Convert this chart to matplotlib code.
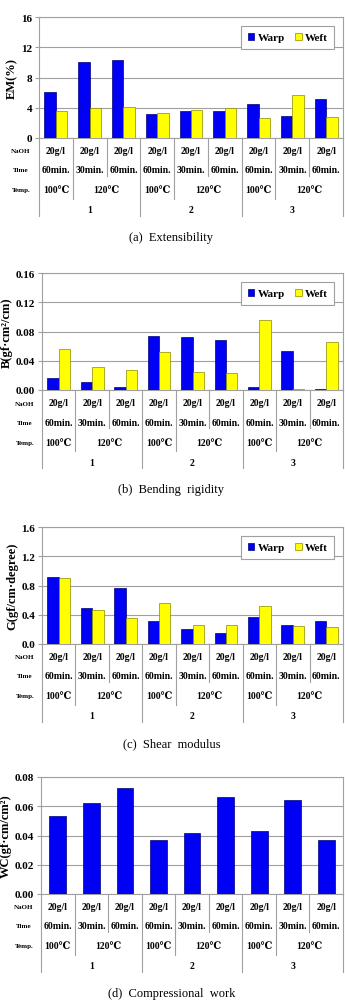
import matplotlib
matplotlib.use("Agg")
import matplotlib.pyplot as plt
import matplotlib.transforms as mtransforms
from matplotlib.patches import Patch

plt.rcParams['font.family'] = ['Liberation Serif', 'DejaVu Serif']

# data
ext_warp = [6.1, 10.0, 10.35, 3.2, 3.6, 3.55, 4.45, 2.9, 5.1]
ext_weft = [3.6, 4.0, 4.15, 3.3, 3.75, 3.95, 2.7, 5.7, 2.8]

bend_warp = [0.017, 0.0115, 0.0037, 0.074, 0.072, 0.068, 0.004, 0.053, 0.002]
bend_weft = [0.056, 0.032, 0.028, 0.052, 0.025, 0.023, 0.096, 0.0007, 0.065]

shear_warp = [0.91, 0.49, 0.77, 0.31, 0.21, 0.155, 0.37, 0.26, 0.32]
shear_weft = [0.90, 0.47, 0.36, 0.56, 0.26, 0.26, 0.52, 0.25, 0.23]

wc_vals = [0.0535, 0.062, 0.0725, 0.037, 0.042, 0.066, 0.043, 0.064, 0.037]

naoh_labels = ['20g/l'] * 9
time_labels = ['60min.', '30min.', '60min.'] * 3
temp_labels = ['100℃', '120℃']
group_labels = ['1', '2', '3']

W, H = 345, 1003
BLUE, BLUE_EDGE = '#0000f5', '#00007a'
YEL, YEL_EDGE = '#ffff00', '#8a8a00'
GRID = '#a0a0a0'

fig = plt.figure(figsize=(W / 100, H / 100), dpi=100)


def make_axes(left, right, top, bottom):
    return fig.add_axes([left / W, 1 - bottom / H, (right - left) / W, (bottom - top) / H])


def draw_panel(ax, h_px, warp, weft, ymax, step, fmt, ylabel, caption, row_x, legend=True):
    n = len(warp)
    x = list(range(n))
    if weft is None:
        ax.bar(x, warp, width=0.5, color=BLUE, edgecolor=BLUE_EDGE, linewidth=0.5, zorder=3)
    else:
        ax.bar([i - 0.17 for i in x], warp, width=0.34, color=BLUE, edgecolor=BLUE_EDGE,
               linewidth=0.5, zorder=3, label='Warp')
        ax.bar([i + 0.17 for i in x], weft, width=0.34, color=YEL, edgecolor=YEL_EDGE,
               linewidth=0.5, zorder=3, label='Weft')
    ax.set_xlim(-0.5, n - 0.5)
    ax.set_ylim(0, ymax)
    ticks = [step * k for k in range(int(round(ymax / step)) + 1)]
    ax.set_yticks(ticks)
    ax.set_yticklabels([fmt.format(t) for t in ticks], fontsize=8, fontweight='bold')
    ax.set_xticks([])
    ax.yaxis.grid(True, color=GRID, linewidth=0.8, zorder=0)
    ax.tick_params(axis='y', length=3, color=GRID, pad=2)
    for s in ax.spines.values():
        s.set_color(GRID)
        s.set_linewidth(0.8)
    ax.set_ylabel(ylabel, fontsize=9, fontweight='bold', labelpad=2)

    if legend:
        handles = [Patch(facecolor=BLUE, edgecolor=BLUE_EDGE, linewidth=0.5, label='Warp'),
                   Patch(facecolor=YEL, edgecolor=YEL_EDGE, linewidth=0.5, label='Weft')]
        leg = ax.legend(handles=handles, ncol=2, loc='upper right', fancybox=False,
                        framealpha=1, edgecolor=GRID, handlelength=0.6, handleheight=0.6,
                        handletextpad=0.3, columnspacing=0.9, borderpad=0.6,
                        prop={'size': 8, 'weight': 'bold'}, bbox_to_anchor=(0.99, 0.97))
        leg.get_frame().set_linewidth(0.8)

    trans = mtransforms.blended_transform_factory(ax.transData, ax.transAxes)

    def fy(dy):
        return -dy / h_px

    # table lines
    for b in range(n + 1):
        if b % 3 == 0:
            depth = 78
        elif b % 3 == 1:
            depth = 61
        else:
            depth = 38
        ax.plot([b - 0.5, b - 0.5], [0, fy(depth)], color=GRID, linewidth=0.8,
                transform=trans, clip_on=False)

    tkw = dict(transform=trans, ha='center', va='center', fontsize=7, fontweight='bold')
    for i in range(n):
        ax.text(i, fy(13), naoh_labels[i], **tkw)
        ax.text(i, fy(32), time_labels[i], **tkw)
    for g in range(3):
        ax.text(3 * g, fy(52), temp_labels[0], **tkw)
        ax.text(3 * g + 1.5, fy(52), temp_labels[1], **tkw)
        ax.text(3 * g + 1, fy(72), group_labels[g], **tkw)

    bbox = ax.get_position()
    rkw = dict(ha='center', va='center', fontsize=5, fontweight='bold')
    for dy, lab in [(13, 'NaOH'), (32, 'Time'), (52, 'Temp.')]:
        fig.text(row_x / W, bbox.y0 - dy / H, lab, **rkw)
    fig.text(0.497, bbox.y0 - 99 / H, caption, ha='center', va='center', fontsize=9)


ax1 = make_axes(39, 343, 18, 139)
draw_panel(ax1, 121, ext_warp, ext_weft, 16, 4, '{:.0f}', 'EM(%)',
           '(a)  Extensibility', 21)

ax2 = make_axes(42, 343, 274, 391)
draw_panel(ax2, 117, bend_warp, bend_weft, 0.16, 0.04, '{:.2f}', 'B(gf·cm²/cm)',
           '(b)  Bending  rigidity', 25)

ax3 = make_axes(42, 343, 528, 645)
draw_panel(ax3, 117, shear_warp, shear_weft, 1.6, 0.4, '{:.1f}', 'G(gf/cm·degree)',
           '(c)  Shear  modulus', 25)

ax4 = make_axes(41, 343, 778, 895)
draw_panel(ax4, 117, wc_vals, None, 0.08, 0.02, '{:.2f}', 'WC(gf·cm/cm²)',
           '(d)  Compressional  work', 24, legend=False)

fig.savefig('out.png', dpi=100, facecolor='white')
